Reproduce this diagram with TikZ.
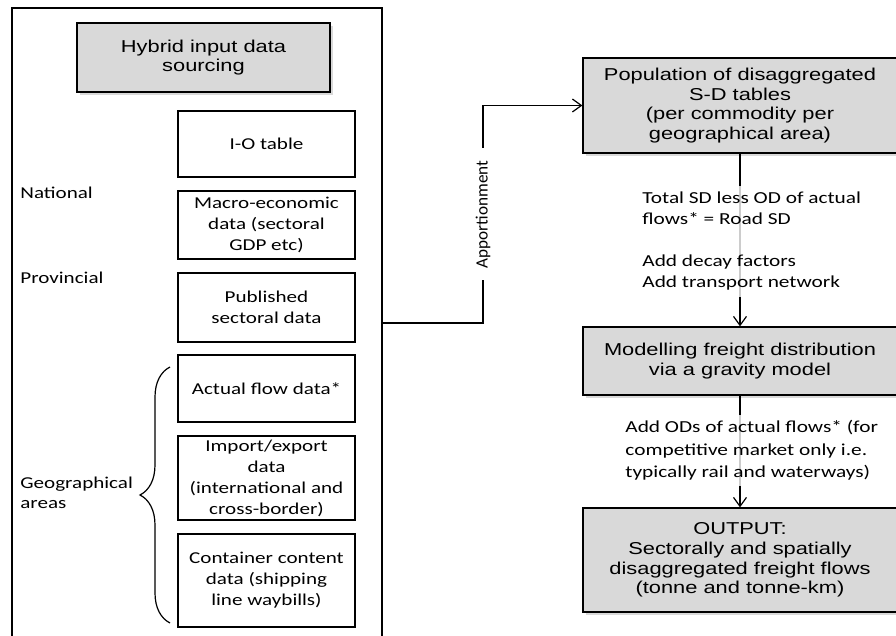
\documentclass[tikz,border=0pt]{standalone}
\usepackage{fontspec}
\newfontfamily\arialwide[FakeStretch=1.27]{Liberation Sans}
\newfontfamily\calwide[FakeStretch=1.27]{Carlito}
\newfontfamily\calnarrow{Carlito}
\usetikzlibrary{arrows.meta,shadows,decorations.pathreplacing}
\tikzset{
  greybox/.style={draw, line width=0.6pt, fill=black!15, inner sep=0pt, align=center,
    font=\arialwide\fontsize{8.6}{9.8}\selectfont,
    drop shadow={shadow xshift=1.3pt, shadow yshift=-1.3pt, opacity=0.3}},
  whitebox/.style={draw, line width=0.6pt, fill=white, inner sep=0pt, align=center,
    minimum width=88.5pt, font=\calwide\fontsize{8.3}{10.5}\selectfont},
  sidelabel/.style={anchor=west, align=left, inner sep=0pt,
    font=\calwide\fontsize{8.3}{10}\selectfont},
  steptext/.style={anchor=west, align=left, fill=white, fill opacity=0.8, text opacity=1,
    inner sep=3pt, font=\calwide\fontsize{8.4}{10.5}\selectfont},
  flow/.style={-{Straight Barb[length=4.5pt,width=6.5pt]}, line width=0.6pt},
}

\begin{document}
\begin{tikzpicture}[x=0.5pt, y=-0.5pt]
    \useasboundingbox (0,0) rectangle (896,636);
    % --- frame round the input sources (open at the bottom) ---
    \node[draw, line width=0.7pt, minimum width=185pt, minimum height=336pt, inner sep=0pt]
      (frame) at (197,344) {};
    \node[greybox, minimum width=126.5pt, minimum height=34.5pt]
      (hybrid) at (203.5,57.5) {Hybrid input data\\sourcing};
    % --- data sources ---
    \node[whitebox, minimum height=33pt]   (iotable)   at (266.5,144)   {I-O table};
    \node[whitebox, minimum height=34pt]   (macro)     at (266.5,225)   {Macro-economic\\data (sectoral\\GDP etc)};
    \node[whitebox, minimum height=34.5pt] (published) at (266.5,307.5) {Published\\sectoral data};
    \node[whitebox, minimum height=33.5pt] (actual)    at (266.5,388.5) {Actual flow data*};
    \node[whitebox, minimum height=42pt]   (impexp)    at (266.5,478)   {Import/export\\data\\(international and\\cross-border)};
    \node[whitebox, minimum height=46.5pt] (container) at (266.5,580.5) {Container content\\data (shipping\\line waybills)};
    % --- levels ---
    \node[sidelabel] (national)   at (20,193) {National};
    \node[sidelabel] (provincial) at (20,278) {Provincial};
    \node[sidelabel] (geo)        at (20,493) {Geographical\\areas};
    \draw[line width=0.6pt, decorate, decoration={brace, amplitude=15pt}]
      (170,623) -- (170,367);
    % --- model chain ---
    \node[greybox, minimum width=157pt, minimum height=47.5pt]
      (population) at (740,105.5) {Population of disaggregated\\S-D tables\\(per commodity per\\geographical area)};
    \node[greybox, minimum width=157pt, minimum height=34pt]
      (modelling) at (740,361) {Modelling freight distribution\\via a gravity model};
    \node[greybox, minimum width=157pt, minimum height=52pt]
      (output) at (740,560) {OUTPUT:\\Sectorally and spatially\\disaggregated freight flows\\(tonne and tonne-km)};
    % --- connectors ---
    \coordinate (split) at (483,323);
    \draw[flow] (frame.east |- split) -- (split)
      -- node[rotate=90, fill=white, inner xsep=6pt, inner ysep=5pt,
              font=\calnarrow\fontsize{8.6}{10}\selectfont] (apport) {Apportionment}
      (split |- population.west) -- (population.west);
    \draw[flow] (population.south) -- (modelling.north);
    \draw[flow] (modelling.south) -- (output.north);
    \node[steptext] (roadsd) at (636,241.5)
      {Total SD less OD of actual\\flows* = Road SD\\[10.5pt]Add decay factors\\Add transport network};
    \node[steptext, font=\calwide\fontsize{8.4}{11.2}\selectfont] (addods) at (619,450.5)
      {Add ODs of actual flows* (for\\competitive market only i.e.\\typically rail and waterways)};
\end{tikzpicture}
\end{document}
